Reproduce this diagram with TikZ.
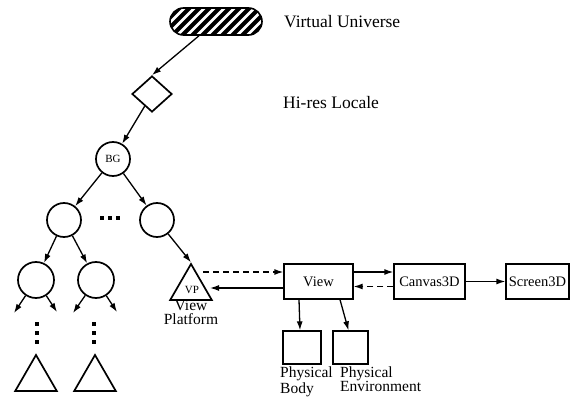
\documentclass[tikz,border=0pt]{standalone}
\usepackage{fontspec}
\setmainfont{Liberation Serif}
\usetikzlibrary{shapes.geometric,arrows.meta}
\newcommand\mytopfont{\fontsize{17.5}{20}\selectfont}
\newcommand\mylblfont{\fontsize{15.5}{14}\selectfont}
\newcommand\myboxfont{\fontsize{14.5}{16}\selectfont}
\newcommand\mysmallfont{\fontsize{11}{12}\selectfont}
\begin{document}
\begin{tikzpicture}[x=1pt,y=-1pt,
  shp/.style={draw,line width=1.7pt,inner sep=0pt},
  circ/.style={shp,circle,minimum size=34pt},
  tri/.style={shp,regular polygon,regular polygon sides=3,minimum size=48pt},
  box/.style={draw,line width=1.3pt,inner sep=0pt,minimum height=35pt,font=\myboxfont},
  pbox/.style={draw,line width=1.3pt,inner sep=0pt,minimum height=33pt},
  conn/.style={line width=1.3pt,-{Latex[length=9pt,width=6pt]}},
  dsh/.style={conn,dash pattern=on 6pt off 4pt},
  lbl/.style={inner sep=0pt,font=\mylblfont},
  toplbl/.style={inner sep=0pt,font=\mytopfont,anchor=west},
  dotm/.style={fill=black},
]
\useasboundingbox (0,0) rectangle (570,398);

% Virtual universe
\node[draw,line width=1.6pt,rounded corners=13.5pt,minimum width=92pt,minimum height=27pt,inner sep=0pt,
  path picture={\foreach \i in {-8,...,8}{\draw[line width=4.2pt] (path picture bounding box.center) ++(\i*10-20,20) -- ++(40,-40);}}]
  (vu) at (216,21.5) {};
\node[toplbl] (vulbl) at (284,22) {Virtual Universe};

% Locale
\node[shp,diamond,minimum width=40pt,minimum height=36pt] (loc) at (152,94) {};
\node[toplbl] (loclbl) at (283,103) {Hi-res Locale};

% Tree
\node[circ,font=\mysmallfont] (bg) at (113,159) {BG};
\node[circ] (c1) at (64,220) {};
\node[circ] (c2) at (157,220) {};
\foreach \x in {102,110,118} \fill[dotm] (\x-2.2,215.8) rectangle ++(4.4,4.4);
\node[circ,minimum size=36pt] (d1) at (36,280) {};
\node[circ,minimum size=36pt] (d2) at (96,280) {};
\coordinate (e1) at (14,313);
\coordinate (e2) at (57,312);
\coordinate (e3) at (73,313);
\coordinate (e4) at (117,312);
\foreach \x in {37,94} \foreach \y in {324,333,342} \fill[dotm] (\x-2,\y-2) rectangle ++(4,4);
\node[tri] (t1) at (36,379) {};
\node[tri] (t2) at (95,379) {};

% View platform
\node[tri] (vp) at (191,288) {};
\node[inner sep=0pt,font=\mysmallfont] (vptxt) at (192,290) {VP};
\node[lbl,align=center] (vplbl) at (191,312) {View\\Platform};

% View side
\node[box,minimum width=69pt] (view) at (318.5,281.5) {View};
\node[box,minimum width=71pt] (canvas) at (429.5,281.5) {Canvas3D};
\node[box,minimum width=63pt] (screen) at (537.5,281.5) {Screen3D};
\node[pbox,minimum width=38pt] (body) at (302,347.5) {};
\node[pbox,minimum width=35pt] (env) at (350.5,347.5) {};
\node[lbl,anchor=north west,align=left] (bodylbl) at (280,367) {Physical\\Body};
\node[lbl,anchor=north west,align=left] (envlbl) at (340,367) {Physical\\Environment};

% connectors
\draw[conn] (vu) -- (loc.north);
\draw[conn] (loc) -- (bg);
\draw[conn] (bg) -- (c1);
\draw[conn] (bg) -- (c2);
\draw[conn] (c1) -- (d1);
\draw[conn] (c1) -- (d2);
\draw[conn] (c2) -- (vp.north);
\draw[conn] (d1) -- (e1);
\draw[conn] (d1) -- (e2);
\draw[conn] (d2) -- (e3);
\draw[conn] (d2) -- (e4);
\draw[dsh] ([xshift=12pt,yshift=16pt]vp.center) -- ([yshift=9.5pt]view.west);
\draw[conn] ([yshift=-6.5pt]view.west) -- ([xshift=19pt]vp.center);
\draw[conn] ([yshift=9.5pt]view.east) -- ([yshift=9.5pt]canvas.west);
\draw[dsh] ([yshift=-5pt]canvas.west) -- ([yshift=-5pt]view.east);
\draw[conn] (canvas) -- (screen);
\draw[conn] ([xshift=-19.5pt]view.south) -- ([xshift=-2pt]body.north);
\draw[conn] ([xshift=21.5pt]view.south) -- ([xshift=-2pt]env.north);
\end{tikzpicture}
\end{document}
